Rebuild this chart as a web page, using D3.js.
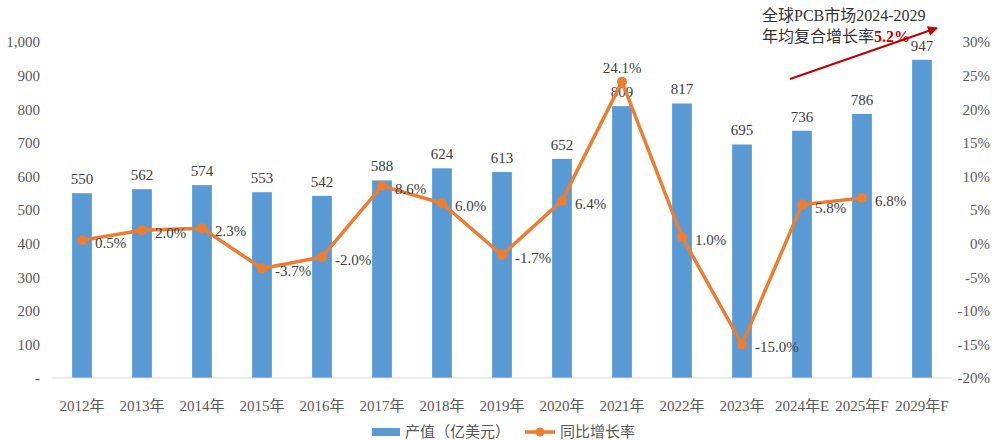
<!DOCTYPE html>
<html>
<head>
<meta charset="utf-8">
<script src="https://cdn.jsdelivr.net/npm/d3@7"></script>
<style>
  body { margin: 0; background: #fff; }
  svg text { font-family: "Liberation Serif", "Noto Sans CJK SC", serif; }
</style>
</head>
<body>
<svg id="chart" width="1000" height="440"></svg>
<script>
// chart data
var years = ['2012年','2013年','2014年','2015年','2016年','2017年','2018年','2019年',
             '2020年','2021年','2022年','2023年','2024年E','2025年F','2029年F'];
var output = [550, 562, 574, 553, 542, 588, 624, 613, 652, 809, 817, 695, 736, 786, 947];
// growth has no value for 2029F
var growth = [0.5, 2.0, 2.3, -3.7, -2.0, 8.6, 6.0, -1.7, 6.4, 24.1, 1.0, -15.0, 5.8, 6.8];
var leftTicks = [0, 100, 200, 300, 400, 500, 600, 700, 800, 900, 1000];
var rightTicks = [-20, -15, -10, -5, 0, 5, 10, 15, 20, 25, 30];

var svg = d3.select('#chart');

var x = d3.scaleBand()
    .domain(years)
    .range([52, 952])
    .paddingInner(0.67)
    .paddingOuter(0.335);

var yLeft = d3.scaleLinear().domain([0, 1000]).range([378, 42]);
var yRight = d3.scaleLinear().domain([-20, 30]).range([378, 42]);

var cx = function(d) { return x(d) + x.bandwidth() / 2; };

// left axis
var leftAxis = svg.append('g')
    .attr('transform', 'translate(40,0)')
    .call(d3.axisLeft(yLeft)
        .tickValues(leftTicks)
        .tickSize(0)
        .tickPadding(0)
        .tickFormat(function(d) { return d === 0 ? '-' : d3.format(',')(d); }));
leftAxis.select('.domain').remove();
leftAxis.selectAll('text')
    .attr('fill', '#595959')
    .style('font-size', '15px');

// right axis
var rightAxis = svg.append('g')
    .attr('transform', 'translate(990,0)')
    .call(d3.axisLeft(yRight)
        .tickValues(rightTicks)
        .tickSize(0)
        .tickPadding(0)
        .tickFormat(function(d) { return d + '%'; }));
rightAxis.select('.domain').remove();
rightAxis.selectAll('text')
    .attr('fill', '#595959')
    .style('font-size', '15px');

// bars
svg.append('g').selectAll('rect')
    .data(output)
  .enter().append('rect')
    .attr('x', function(d, i) { return x(years[i]); })
    .attr('y', function(d) { return yLeft(d); })
    .attr('width', x.bandwidth())
    .attr('height', function(d) { return yLeft(0) - yLeft(d); })
    .attr('fill', '#5B9BD5');

// baseline
svg.append('line')
    .attr('x1', 52).attr('x2', 952)
    .attr('y1', yLeft(0)).attr('y2', yLeft(0))
    .attr('stroke', '#D9D9D9')
    .attr('stroke-width', 1);

// x labels
var xAxis = svg.append('g')
    .attr('transform', 'translate(0,' + yLeft(0) + ')')
    .call(d3.axisBottom(x).tickSize(0).tickPadding(22));
xAxis.select('.domain').remove();
xAxis.selectAll('text')
    .attr('fill', '#595959')
    .style('font-size', '15px');

// bar value labels
svg.append('g').selectAll('text')
    .data(output)
  .enter().append('text')
    .attr('x', function(d, i) { return cx(years[i]); })
    .attr('y', function(d) { return yLeft(d) - 9; })
    .attr('text-anchor', 'middle')
    .attr('fill', '#404040')
    .style('font-size', '15px')
    .text(function(d) { return d; });

// growth line
var line = d3.line()
    .x(function(d, i) { return cx(years[i]); })
    .y(function(d) { return yRight(d); });

svg.append('path')
    .datum(growth)
    .attr('d', line)
    .attr('fill', 'none')
    .attr('stroke', '#ED7D31')
    .attr('stroke-width', 3.5)
    .attr('stroke-linejoin', 'round');

svg.append('g').selectAll('circle')
    .data(growth)
  .enter().append('circle')
    .attr('cx', function(d, i) { return cx(years[i]); })
    .attr('cy', function(d) { return yRight(d); })
    .attr('r', 5)
    .attr('fill', '#ED7D31');

// growth labels, 2021 sits above its point
svg.append('g').selectAll('text')
    .data(growth)
  .enter().append('text')
    .attr('x', function(d, i) { return i === 9 ? cx(years[i]) : cx(years[i]) + 13; })
    .attr('y', function(d, i) { return i === 9 ? yRight(d) - 9 : yRight(d) + 8; })
    .attr('text-anchor', function(d, i) { return i === 9 ? 'middle' : 'start'; })
    .attr('fill', '#404040')
    .style('font-size', '15px')
    .text(function(d) { return d.toFixed(1) + '%'; });

// annotation
svg.append('defs').append('marker')
    .attr('id', 'arrow')
    .attr('viewBox', '0 0 10 10')
    .attr('refX', 9).attr('refY', 5)
    .attr('markerWidth', 5).attr('markerHeight', 5)
    .attr('orient', 'auto')
  .append('path')
    .attr('d', 'M0,0 L10,5 L0,10 z')
    .attr('fill', '#C00000');

svg.append('line')
    .attr('x1', 790).attr('y1', 79)
    .attr('x2', 937).attr('y2', 28)
    .attr('stroke', '#C00000')
    .attr('stroke-width', 2)
    .attr('marker-end', 'url(#arrow)');

svg.append('text')
    .attr('x', 762).attr('y', 21)
    .attr('fill', '#333')
    .style('font-size', '16px')
    .text('全球PCB市场2024-2029');

var line2 = svg.append('text')
    .attr('x', 762).attr('y', 42)
    .attr('fill', '#333')
    .style('font-size', '16px');
line2.append('tspan').text('年均复合增长率');
line2.append('tspan')
    .attr('fill', '#C00000')
    .attr('font-weight', 'bold')
    .text('5.2%');

// legend
var legend = svg.append('g').attr('transform', 'translate(0,432)');
legend.append('rect')
    .attr('x', 372).attr('y', -4)
    .attr('width', 28).attr('height', 8)
    .attr('fill', '#5B9BD5');
legend.append('text')
    .attr('x', 405).attr('y', 5)
    .attr('fill', '#595959')
    .style('font-size', '15px')
    .text('产值（亿美元）');
legend.append('line')
    .attr('x1', 525).attr('x2', 555)
    .attr('stroke', '#ED7D31')
    .attr('stroke-width', 3.5);
legend.append('circle')
    .attr('cx', 540).attr('r', 4.5)
    .attr('fill', '#ED7D31');
legend.append('text')
    .attr('x', 560).attr('y', 5)
    .attr('fill', '#595959')
    .style('font-size', '15px')
    .text('同比增长率');
</script>
</body>
</html>
